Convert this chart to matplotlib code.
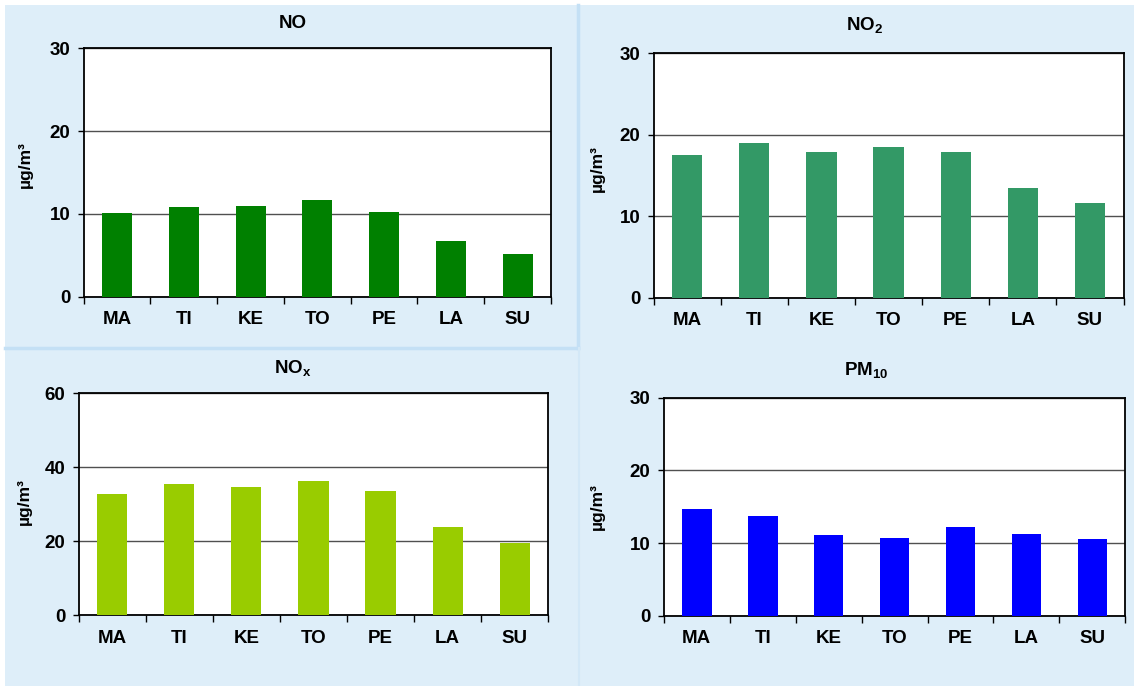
import matplotlib.pyplot as plt
from matplotlib.patches import Rectangle
from matplotlib.lines import Line2D
import numpy as np

plt.rcParams['font.family'] = ['Liberation Sans', 'DejaVu Sans']
plt.rcParams['font.weight'] = 'bold'
plt.rcParams['mathtext.fontset'] = 'custom'
plt.rcParams['mathtext.rm'] = 'Liberation Sans:bold'
plt.rcParams['mathtext.it'] = 'Liberation Sans:bold'
plt.rcParams['mathtext.bf'] = 'Liberation Sans:bold'
plt.rcParams['mathtext.default'] = 'rm'

sites = ["MA", "TI", "KE", "TO", "PE", "LA", "SU"]
no = [10.1, 10.8, 11.0, 11.7, 10.2, 6.7, 5.2]
no2 = [17.5, 19.0, 17.9, 18.5, 17.9, 13.5, 11.6]
nox = [32.7, 35.5, 34.7, 36.4, 33.6, 23.7, 19.5]
pm10 = [14.7, 13.7, 11.1, 10.7, 12.2, 11.2, 10.5]

W, H = 1134, 686
fig = plt.figure(figsize=(W / 100, H / 100), dpi=100)
fig.patch.set_facecolor('white')

bg = '#deeef9'
sep = '#c4e0f5'


def fx(px):
    return px / W


def fy(py):
    return 1 - py / H


# light blue backdrop with thin dividers between the four panels
fig.add_artist(Rectangle((fx(5), 0), 1 - fx(5), fy(5), transform=fig.transFigure,
                         facecolor=bg, edgecolor='none', zorder=-10))
fig.add_artist(Line2D([fx(578), fx(578)], [fy(5), fy(348)], transform=fig.transFigure,
                      color=sep, lw=2.5))
fig.add_artist(Line2D([fx(5), fx(578)], [fy(348), fy(348)], transform=fig.transFigure,
                      color=sep, lw=2.5))
fig.add_artist(Line2D([fx(579), fx(579)], [fy(348), 0], transform=fig.transFigure,
                      color='#d3e8f7', lw=1.5))

panels = [
    # title, values, colour, ymax, step, (left, top, right, bottom), title xy, ylabel x/y
    ("NO", no, '#008000', 30, 10, (83.6, 48.3, 551, 296.7), (293, 24), -0.108, 0.53),
    ("NO$_2$", no2, '#339966', 30, 10, (653.6, 53.3, 1123.5, 297.7), (865, 25), -0.103, 0.53),
    ("NO$_x$", nox, '#99cc00', 60, 20, (78.5, 393.3, 548.4, 615), (293, 368), -0.099, 0.51),
    ("PM$_{10}$", pm10, '#0000ff', 30, 10, (663.8, 397.7, 1125.3, 615.7), (866, 370), -0.128, 0.50),
]

x = np.arange(len(sites))
for title, vals, color, ymax, step, (l, t, r, b), (tx, ty), lx, ly in panels:
    ax = fig.add_axes([fx(l), fy(b), (r - l) / W, (b - t) / H])
    ax.set_facecolor('white')
    ax.bar(x, vals, width=0.45, color=color, zorder=3)
    ax.set_xlim(-0.5, len(sites) - 0.5)
    ax.set_ylim(0, ymax)
    ax.set_yticks(np.arange(0, ymax + 1, step))
    ax.yaxis.grid(True, color='#505050', lw=1, zorder=0)
    ax.set_axisbelow(True)

    ax.set_xticks(np.arange(-0.5, len(sites)), labels=[])
    ax.set_xticks(x, labels=sites, minor=True)
    ax.tick_params(axis='x', which='major', length=5, width=1, direction='out')
    ax.tick_params(axis='x', which='minor', length=0, pad=10.5, labelsize=13.5)
    ax.tick_params(axis='y', length=4.5, width=1, pad=5, labelsize=13.5)

    for s in ax.spines.values():
        s.set_color('black')
        s.set_linewidth(1.3)

    ax.set_ylabel("µg/m³", fontsize=12.5, fontweight='bold')
    ax.yaxis.set_label_coords(lx, ly)
    fig.text(fx(tx), fy(ty), title, ha='center', va='center', fontsize=13.5, fontweight='bold')

fig.savefig("out.png", dpi=100)
